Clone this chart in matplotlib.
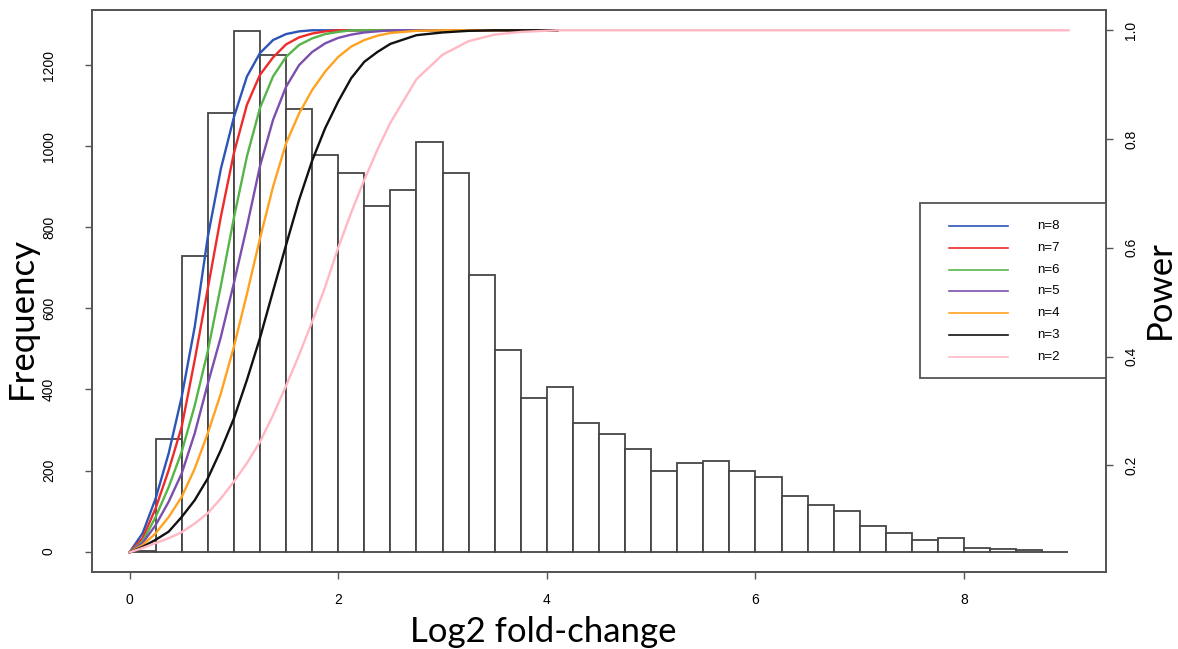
import numpy as np
import matplotlib.pyplot as plt
from matplotlib.lines import Line2D
from matplotlib.patches import Rectangle

plt.rcParams["font.family"] = ["Liberation Sans", "DejaVu Sans"]

W, H = 1178, 649

# histogram of log2 fold-changes, bins of 0.25 from 0 to 9
bin_width = 0.25
counts = [2, 278, 730, 1082, 1286, 1226, 1092, 978, 934, 854, 893, 1010,
          934, 682, 497, 379, 405, 317, 290, 253, 198, 219, 224, 198,
          183, 138, 114, 100, 64, 45, 28, 33, 8, 6, 4, 0]

# power curves
x_pow = [0, 0.125, 0.25, 0.375, 0.5, 0.625, 0.75, 0.875, 1.0, 1.125, 1.25,
         1.375, 1.5, 1.625, 1.75, 1.875, 2.0, 2.125, 2.25, 2.375, 2.5,
         2.75, 3.0, 3.25, 3.5, 3.75, 4.1]
power_n8 = [0.04, 0.075, 0.139, 0.222, 0.326, 0.455, 0.62, 0.745, 0.84, 0.915,
            0.958, 0.982, 0.993, 0.998, 1, 1, 1, 1, 1, 1, 1, 1, 1, 1, 1, 1, 1]
power_n7 = [0.04, 0.066, 0.121, 0.191, 0.271, 0.394, 0.525, 0.657, 0.774, 0.863,
            0.918, 0.95, 0.974, 0.987, 0.994, 0.998, 1, 1, 1, 1, 1, 1, 1, 1, 1,
            1, 1]
power_n6 = [0.04, 0.06, 0.105, 0.16, 0.225, 0.31, 0.41, 0.53, 0.655, 0.768,
            0.857, 0.915, 0.951, 0.973, 0.985, 0.993, 0.997, 1, 1, 1, 1, 1, 1,
            1, 1, 1, 1]
power_n5 = [0.04, 0.057, 0.09, 0.133, 0.185, 0.259, 0.35, 0.436, 0.535, 0.639,
            0.75, 0.835, 0.896, 0.936, 0.96, 0.976, 0.986, 0.992, 0.996, 0.998,
            1, 1, 1, 1, 1, 1, 1]
power_n4 = [0.04, 0.053, 0.075, 0.105, 0.142, 0.194, 0.259, 0.332, 0.418, 0.515,
            0.617, 0.712, 0.792, 0.847, 0.89, 0.924, 0.951, 0.97, 0.982, 0.99,
            0.995, 0.999, 1, 1, 1, 1, 1]
power_n3 = [0.04, 0.05, 0.063, 0.078, 0.105, 0.136, 0.176, 0.228, 0.286, 0.357,
            0.434, 0.52, 0.605, 0.688, 0.76, 0.82, 0.869, 0.912, 0.942, 0.96,
            0.975, 0.991, 0.996, 0.999, 1, 1, 1]
x_pow_n2 = x_pow + [9.0]
power_n2 = [0.04, 0.048, 0.057, 0.066, 0.077, 0.093, 0.112, 0.139, 0.17, 0.204,
            0.243, 0.292, 0.346, 0.403, 0.464, 0.528, 0.6, 0.665, 0.725, 0.78,
            0.83, 0.91, 0.955, 0.98, 0.992, 0.997, 1, 1]

labels = ["n=8", "n=7", "n=6", "n=5", "n=4", "n=3", "n=2"]
colors = ["#2d55b8", "#ee2b2b", "#55b548", "#7b4fae", "#ffa21f", "#111111", "#ffb8c4"]
series = [(x_pow, power_n8), (x_pow, power_n7), (x_pow, power_n6),
          (x_pow, power_n5), (x_pow, power_n4), (x_pow, power_n3),
          (x_pow_n2, power_n2)]


def fx(px):
    return px / W


def fy(py):
    return 1 - py / H


frame_col = "#555555"

fig = plt.figure(figsize=(W / 100, H / 100), dpi=100)
ax = fig.add_axes([fx(92), fy(572), (1106 - 92) / W, (572 - 10) / H])

left_edges = np.arange(len(counts)) * bin_width
ax.bar(left_edges, counts, width=bin_width, align="edge", color="white",
       edgecolor="#454545", linewidth=1.3)
ax.set_xlim(-0.36, 9.36)
ax.set_ylim(-50.6, 1337)
ax.set_xticks([0, 2, 4, 6, 8])
ax.set_yticks([0, 200, 400, 600, 800, 1000, 1200])
ax.tick_params(axis="x", length=5, width=1, color=frame_col, pad=10, labelsize=10)
ax.tick_params(axis="y", length=5, width=1, color=frame_col, pad=21,
               labelsize=10, labelrotation=90)
for lab in ax.get_yticklabels():
    lab.set_va("center")

ax2 = ax.twinx()
for (xs, ys), c in zip(series, colors):
    ax2.plot(xs, ys, color=c, lw=1.7)
ax2.set_ylim(0.0038, 1.0373)
ax2.set_yticks([0.2, 0.4, 0.6, 0.8, 1.0])
ax2.set_yticklabels(["0.2", "0.4", "0.6", "0.8", "1.0"])
ax2.tick_params(axis="y", length=5, width=1, color=frame_col, pad=8,
                labelsize=10, labelrotation=90)
for lab in ax2.get_yticklabels():
    lab.set_va("center")

for a in (ax, ax2):
    for sp in a.spines.values():
        sp.set_color(frame_col)
        sp.set_linewidth(1.3)

# legend box drawn by hand, R style
fig.add_artist(Rectangle((fx(920), fy(378)), fx(1106) - fx(920), fy(203) - fy(378),
                         transform=fig.transFigure, facecolor="white",
                         edgecolor=frame_col, linewidth=1.3, zorder=5))
for i, (lab, c) in enumerate(zip(labels, colors)):
    yy = 226 + i * 21.8
    fig.add_artist(Line2D([fx(949), fx(1008)], [fy(yy), fy(yy)], color=c,
                          lw=1.2, transform=fig.transFigure, zorder=6))
    fig.text(fx(1037), fy(yy), lab, fontsize=9.5, va="center", ha="left", zorder=6)

fig.text(fx(543), fy(632), "Log2 fold-change", fontsize=25, family="Lato",
         ha="center", va="center")
fig.text(fx(22), fy(318), "Frequency", fontsize=25, family="Lato",
         rotation=90, ha="center", va="center")
fig.text(fx(1160), fy(290), "Power", fontsize=25, family="Lato",
         rotation=90, ha="center", va="center")

fig.savefig("out.png", dpi=100)
